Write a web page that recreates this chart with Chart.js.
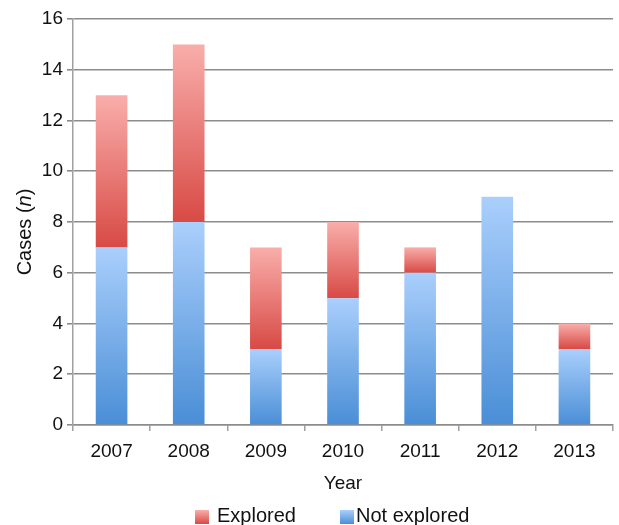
<!DOCTYPE html>
<html>
<head>
<meta charset="utf-8">
<script src="https://cdn.jsdelivr.net/npm/chart.js@4.4.1/dist/chart.umd.min.js"></script>
<style>
  html, body { margin: 0; padding: 0; background: #ffffff; }
  #wrap { width: 619px; height: 525px; }
</style>
</head>
<body>
<div id="wrap"><canvas id="c" width="619" height="525"></canvas></div>
<script>
// Cases per year, split by whether they were explored
const years = ['2007', '2008', '2009', '2010', '2011', '2012', '2013'];
const notExplored = [7, 8, 3, 5, 6, 9, 3];
const explored = [6, 7, 4, 3, 1, 0, 1];
const yTicks = [0, 2, 4, 6, 8, 10, 12, 14, 16];

const FONT = '"Liberation Sans", Arial, Helvetica, sans-serif';
const TEXT = '#111111';
const BLUE = { top: '#aacffc', bottom: '#4a8ed6' };
const RED = { top: '#f9aeab', bottom: '#d84a45' };
const seriesValues = [notExplored, explored];

// vertical gradient spanning each stacked segment
function segmentFill(colors) {
  return (ctx) => {
    const chart = ctx.chart;
    const y = chart.scales && chart.scales.y;
    if (!y || ctx.type !== 'data' || !chart.chartArea) return colors.bottom;
    let base = 0;
    for (let d = 0; d < ctx.datasetIndex; d++) base += seriesValues[d][ctx.dataIndex];
    const val = seriesValues[ctx.datasetIndex][ctx.dataIndex];
    const y0 = y.getPixelForValue(base);
    const y1 = y.getPixelForValue(base + val);
    if (!isFinite(y0) || !isFinite(y1) || y0 === y1) return colors.bottom;
    const g = chart.ctx.createLinearGradient(0, y1, 0, y0);
    g.addColorStop(0, colors.top);
    g.addColorStop(1, colors.bottom);
    return g;
  };
}

// y-axis title with an italic n
const yTitlePlugin = {
  id: 'yTitle',
  afterDraw(chart) {
    const ctx = chart.ctx;
    ctx.save();
    ctx.translate(25, 232);
    ctx.rotate(-Math.PI / 2);
    ctx.fillStyle = TEXT;
    ctx.textBaseline = 'middle';
    ctx.textAlign = 'left';
    const parts = [
      ['20px ' + FONT, 'Cases ('],
      ['italic 20px ' + FONT, 'n'],
      ['20px ' + FONT, ')']
    ];
    let total = 0;
    parts.forEach(p => { ctx.font = p[0]; total += ctx.measureText(p[1]).width; });
    let xPos = -total / 2;
    parts.forEach(p => {
      ctx.font = p[0];
      ctx.fillText(p[1], xPos, 0);
      xPos += ctx.measureText(p[1]).width;
    });
    ctx.restore();
  }
};

// legend row under the axis title: gradient swatch + label per series
const legendRowPlugin = {
  id: 'legendRow',
  afterDraw(chart) {
    const ctx = chart.ctx;
    const items = [
      { ds: chart.data.datasets[1], colors: RED, x: 195, tx: 217 },
      { ds: chart.data.datasets[0], colors: BLUE, x: 340, tx: 356 }
    ];
    ctx.save();
    ctx.font = '20px ' + FONT;
    ctx.textBaseline = 'alphabetic';
    ctx.textAlign = 'left';
    items.forEach(it => {
      const bx = it.x, by = 510, s = 14;
      const g = ctx.createLinearGradient(0, by, 0, by + s);
      g.addColorStop(0, it.colors.top);
      g.addColorStop(1, it.colors.bottom);
      ctx.fillStyle = g;
      ctx.fillRect(bx, by, s, s);
      ctx.fillStyle = TEXT;
      ctx.fillText(it.ds.label, it.tx, 522);
    });
    ctx.restore();
  }
};

new Chart(document.getElementById('c'), {
  type: 'bar',
  data: {
    labels: years,
    datasets: [
      {
        label: 'Not explored',
        data: notExplored,
        backgroundColor: segmentFill(BLUE),
        borderWidth: 0,
        barPercentage: 0.41,
        categoryPercentage: 1.0
      },
      {
        label: 'Explored',
        data: explored,
        backgroundColor: segmentFill(RED),
        borderWidth: 0,
        barPercentage: 0.41,
        categoryPercentage: 1.0
      }
    ]
  },
  options: {
    responsive: false,
    animation: false,
    layout: { padding: { top: 19, right: 6, left: 0, bottom: 0 } },
    plugins: {
      tooltip: { enabled: false },
      legend: { display: false }
    },
    scales: {
      x: {
        stacked: true,
        offset: true,
        afterFit(scale) { scale.height = 100; },
        grid: {
          display: true,
          offset: true,
          drawOnChartArea: false,
          drawTicks: true,
          tickLength: 6,
          color: '#a0a0a0',
          lineWidth: 1.5
        },
        border: { display: true, color: '#8c8c8c', width: 1.5 },
        ticks: {
          font: { family: FONT, size: 19 },
          color: TEXT,
          padding: 9,
          maxRotation: 0
        },
        title: {
          display: true,
          text: 'Year',
          font: { family: FONT, size: 19 },
          color: TEXT,
          padding: { top: 10, bottom: 30 }
        }
      },
      y: {
        stacked: true,
        min: 0,
        max: 16,
        afterFit(scale) { scale.width = 73; },
        afterBuildTicks(scale) { scale.ticks = yTicks.map(v => ({ value: v })); },
        grid: {
          color: '#8c8c8c',
          lineWidth: 1.6,
          drawTicks: true,
          tickLength: 6
        },
        border: { display: true, color: '#a0a0a0', width: 1.5 },
        ticks: {
          font: { family: FONT, size: 19 },
          color: TEXT,
          padding: 4
        }
      }
    }
  },
  plugins: [yTitlePlugin, legendRowPlugin]
});
</script>
</body>
</html>
